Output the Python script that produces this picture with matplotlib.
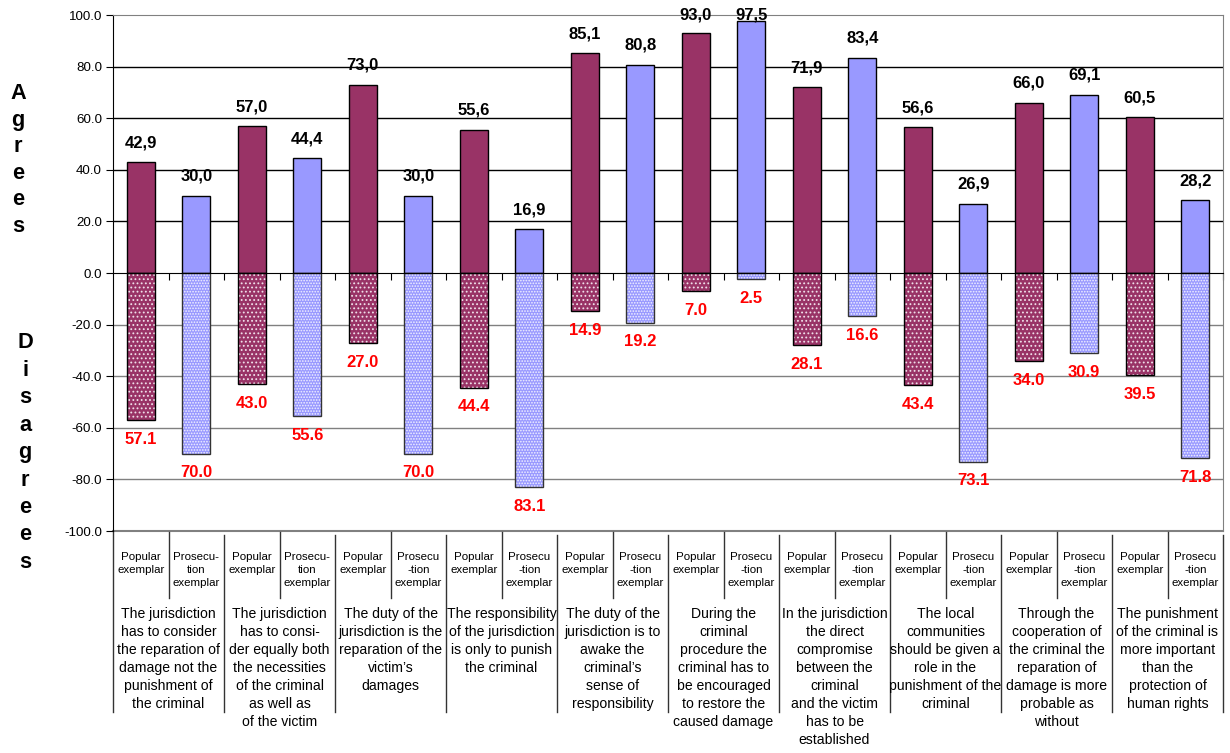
import matplotlib
matplotlib.use("Agg")
import matplotlib.pyplot as plt
import matplotlib.transforms as mtransforms
from matplotlib import font_manager
import numpy as np

# survey answers in percent, two sample groups per statement
popular_agree = [42.9, 57.0, 73.0, 55.6, 85.1, 93.0, 71.9, 56.6, 66.0, 60.5]
prosec_agree = [30.0, 44.4, 30.0, 16.9, 80.8, 97.5, 83.4, 26.9, 69.1, 28.2]
popular_disagree = [57.1, 43.0, 27.0, 44.4, 14.9, 7.0, 28.1, 43.4, 34.0, 39.5]
prosec_disagree = [70.0, 55.6, 70.0, 83.1, 19.2, 2.5, 16.6, 73.1, 30.9, 71.8]

popular_label = "Popular\nexemplar"
prosec_labels = ["Prosecu-\ntion\nexemplar"] * 2 + ["Prosecu\n-tion\nexemplar"] * 8

statements = [
    "The jurisdiction\nhas to consider\nthe reparation of\ndamage not the\npunishment of\nthe criminal",
    "The jurisdiction\nhas to consi-\nder equally both\nthe necessities\nof the criminal\nas well as\nof the victim",
    "The duty of the\njurisdiction is the\nreparation of the\nvictim\u2019s\ndamages",
    "The responsibility\nof the jurisdiction\nis only to punish\nthe criminal",
    "The duty of the\njurisdiction is to\nawake the\ncriminal\u2019s\nsense of\nresponsibility",
    "During the\ncriminal\nprocedure the\ncriminal has to\nbe encouraged\nto restore the\ncaused damage",
    "In the jurisdiction\nthe direct\ncompromise\nbetween the\ncriminal\nand the victim\nhas to be\nestablished",
    "The local\ncommunities\nshould be given a\nrole in the\npunishment of the\ncriminal",
    "Through the\ncooperation of\nthe criminal the\nreparation of\ndamage is more\nprobable as\nwithout",
    "The punishment\nof the criminal is\nmore important\nthan the\nprotection of\nhuman rights",
]

maroon = "#993366"
lilac = "#9999FF"

available = {f.name for f in font_manager.fontManager.ttflist}
if "Liberation Sans Narrow" in available:
    face, fs = "Liberation Sans Narrow", 1.08
else:
    face, fs = "Liberation Sans", 0.92
plt.rcParams["font.family"] = face
plt.rcParams["hatch.linewidth"] = 0.8

W, H = 1230, 753
fig = plt.figure(figsize=(W / 100, H / 100), dpi=100)
ax = fig.add_axes([113 / W, 1 - 531 / H, 1110 / W, 516 / H])

n = len(statements)
x_pop = np.arange(n) * 2
x_pros = x_pop + 1
bw = 0.5

# agree bars (solid)
ax.bar(x_pop, popular_agree, bw, color=maroon, edgecolor="black", lw=1, zorder=3)
ax.bar(x_pros, prosec_agree, bw, color=lilac, edgecolor="black", lw=1, zorder=3)

# disagree bars (dotted fill)
neg_pop = -np.array(popular_disagree)
neg_pros = -np.array(prosec_disagree)
ax.bar(x_pop, neg_pop, bw, color=maroon, edgecolor="#f0e0ea", hatch="....", lw=0, zorder=3)
ax.bar(x_pros, neg_pros, bw, color=lilac, edgecolor="#f2f2ff", hatch="......", lw=0, zorder=3)
ax.bar(x_pop, neg_pop, bw, facecolor="none", edgecolor="black", lw=1, zorder=4)
ax.bar(x_pros, neg_pros, bw, facecolor="none", edgecolor="#333333", lw=1, zorder=4)

# value labels
for xs, vals in ((x_pop, popular_agree), (x_pros, prosec_agree)):
    for x, v in zip(xs, vals):
        ax.text(x, min(v + 7.5, 100), f"{v:.1f}".replace(".", ","), ha="center", va="center",
                fontsize=13 * fs, fontweight="bold", color="black", zorder=5, clip_on=False)
for xs, vals in ((x_pop, popular_disagree), (x_pros, prosec_disagree)):
    for x, v in zip(xs, vals):
        ax.text(x, -(v + 7.5), f"{v:.1f}", ha="center", va="center",
                fontsize=13 * fs, fontweight="bold", color="#FF0000", zorder=5)

ax.set_xlim(-0.5, 2 * n - 0.5)
ax.set_ylim(-100, 100)

for v in (20, 40, 60, 80):
    ax.axhline(v, color="black", lw=1, zorder=1)
for v in (-20, -40, -60, -80):
    ax.axhline(v, color="#808080", lw=1, zorder=1)
ax.axhline(-100, color="#808080", lw=1.5, zorder=1, clip_on=False)

ax.spines["bottom"].set_position(("data", 0))
ax.spines["bottom"].set_zorder(5)
ax.spines["top"].set_color("#808080")
ax.spines["right"].set_color("#808080")
ax.spines["left"].set_color("black")

ax.set_xticks(np.arange(0.5, 2 * n, 1.0))
ax.tick_params(axis="x", direction="out", length=5, labelbottom=False)
ax.set_yticks(np.arange(-100, 101, 20))
ax.set_yticklabels([f"{v:.1f}" for v in np.arange(-100, 101, 20)], fontsize=10.5 * fs)
ax.tick_params(axis="y", direction="out", length=5, pad=3)

# category table underneath
trans = mtransforms.blended_transform_factory(ax.transData, fig.transFigure)
fy = lambda px: 1 - px / H
line_kw = dict(color="#333333", lw=1, transform=trans, clip_on=False)
ax.plot([-0.5, -0.5], [fy(531), fy(712)], **line_kw)
for i in range(n):
    ax.plot([2 * i + 0.5] * 2, [fy(532), fy(598)], **line_kw)
    ax.plot([2 * i + 1.5] * 2, [fy(535), fy(712)], **line_kw)
    ax.text(x_pop[i], fy(552), popular_label, ha="center", va="top", fontsize=9 * fs,
            linespacing=1.4, transform=trans)
    ax.text(x_pros[i], fy(552), prosec_labels[i], ha="center", va="top", fontsize=9 * fs,
            linespacing=1.4, transform=trans)
    ax.text(2 * i + 0.5, fy(607), statements[i], ha="center", va="top", fontsize=11 * fs,
            linespacing=1.36, transform=trans)

# stacked axis captions
for k, ch in enumerate("Agrees"):
    fig.text(18 / W, fy(99 + 26.6 * k), ch, ha="center", va="baseline",
             fontsize=17 * fs, fontweight="bold")
for k, ch in enumerate("Disagrees"):
    fig.text(25 / W, fy(348 + 27.5 * k), ch, ha="center", va="baseline",
             fontsize=17 * fs, fontweight="bold")

fig.savefig("out.png", dpi=100)
